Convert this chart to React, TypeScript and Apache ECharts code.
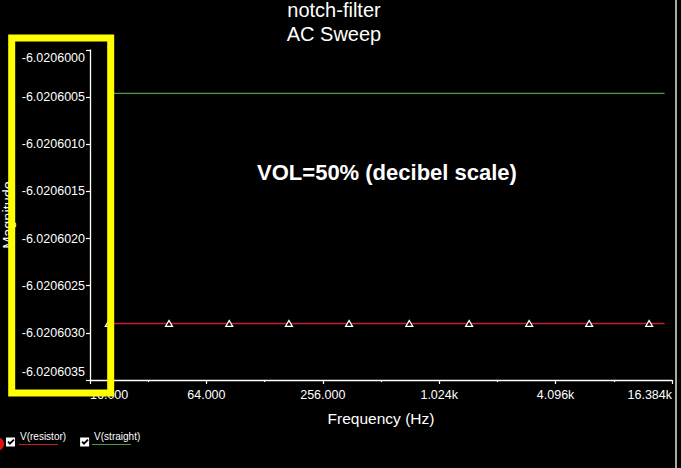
import React, { useEffect, useRef } from 'react';
import * as echarts from 'echarts';

const FONT = '"Liberation Sans", Arial, sans-serif';

const seriesNames = ['V(resistor)', 'V(straight)'];
const seriesColors = ['#c42228', '#4f9a44'];

// V(resistor): sweep points where markers are drawn, plus the sweep end (no marker)
const resistorFreqs = [20, 41, 84, 171, 350, 717, 1463, 2990, 6110, 12480, 15000];
const resistorMags = [
  -6.0206029, -6.0206029, -6.0206029, -6.0206029, -6.0206029, -6.0206029,
  -6.0206029, -6.0206029, -6.0206029, -6.0206029, -6.0206029,
];
const resistorMarker = [true, true, true, true, true, true, true, true, true, true, false];

// V(straight)
const straightFreqs = [20, 15000];
const straightMags = [-6.02060046, -6.02060046];

// axes
const xMinHz = 16;
const xMaxHz = 16384;
const xTickLabels = ['16.000', '64.000', '256.000', '1.024k', '4.096k', '16.384k'];
const yMin = -6.0206035;
const yMax = -6.0206;
const yInterval = 0.0000005;
const yTickLabels = [
  '-6.0206035', '-6.0206030', '-6.0206025', '-6.0206020',
  '-6.0206015', '-6.0206010', '-6.0206005', '-6.0206000',
];

const titleText = 'notch-filter\nAC Sweep';
const noteText = 'VOL=50% (decibel scale)';

export default function App() {
  const ref = useRef<HTMLDivElement>(null);

  useEffect(() => {
    document.body.style.margin = '0';
    document.body.style.background = '#000';
    if (!ref.current) return;
    const chart = echarts.init(ref.current, null, { renderer: 'svg' });
    const xMin = Math.log2(xMinHz);
    const xMax = Math.log2(xMaxHz);
    const lblSize = 12.5;

    chart.setOption({
      animation: false,
      backgroundColor: '#000',
      title: {
        text: titleText,
        left: 334,
        top: -2,
        textAlign: 'center',
        padding: 0,
        textStyle: { color: '#fff', fontSize: 20, fontWeight: 'normal', lineHeight: 24, fontFamily: FONT },
      },
      grid: { left: 90, right: 9, top: 50, bottom: 88, containLabel: false, outerBoundsMode: 'none' },
      legend: {
        left: 6,
        top: 431,
        padding: 0,
        itemGap: 14,
        itemWidth: 9,
        itemHeight: 10,
        selectedMode: false,
        icon: 'path://M0,0H10V10H0Z M1.5,5.2L4.3,8.4L9.5,3L8.2,1.6L4.3,5.4L2.9,3.8Z',
        data: seriesNames.map((n) => ({ name: n, itemStyle: { color: '#fff', borderWidth: 0 } })),
        formatter: '{t|{name}}',
        textStyle: {
          color: '#fff',
          fontSize: 10,
          fontFamily: FONT,
          rich: { t: { color: '#fff', fontSize: 10, fontFamily: FONT, padding: [0, 0, 12, 0] } },
        },
      },
      xAxis: {
        type: 'value',
        min: xMin,
        max: xMax,
        interval: 2,
        name: 'Frequency (Hz)',
        nameLocation: 'middle',
        nameGap: 30,
        nameMoveOverlap: false,
        nameTextStyle: { color: '#fff', fontSize: 15.5, fontFamily: FONT },
        axisLine: { show: true, onZero: false, lineStyle: { color: '#fff', width: 1.3 } },
        axisTick: { show: true, length: 4, lineStyle: { color: '#fff', width: 1.2 } },
        minorTick: { show: true, splitNumber: 2, length: 2, lineStyle: { color: '#fff', width: 1.2 } },
        splitLine: { show: false },
        axisLabel: {
          color: '#fff',
          fontSize: lblSize,
          fontFamily: FONT,
          margin: 8,
          alignMinLabel: 'left',
          alignMaxLabel: 'right',
          formatter: (v: number) => xTickLabels[Math.round((v - xMin) / 2)] ?? '',
        },
      },
      yAxis: {
        type: 'value',
        min: yMin,
        max: yMax,
        interval: yInterval,
        name: 'Magnitude',
        nameLocation: 'middle',
        nameRotate: 90,
        nameGap: 75,
        nameMoveOverlap: false,
        nameTextStyle: { color: '#fff', fontSize: 14.5, fontFamily: FONT },
        axisLine: { show: true, onZero: false, lineStyle: { color: '#fff', width: 1.3 } },
        axisTick: { show: true, length: 4, lineStyle: { color: '#fff', width: 1.2 } },
        splitLine: { show: false },
        axisLabel: {
          color: '#fff',
          fontSize: lblSize,
          fontFamily: FONT,
          margin: 5,
          formatter: (v: number) => {
            const i = Math.round((v - yMin) / yInterval);
            const t = yTickLabels[i] ?? '';
            if (i === yTickLabels.length - 1) return '{top|' + t + '}';
            if (i === 0) return '{bot|' + t + '}';
            return '{n|' + t + '}';
          },
          rich: {
            n: { color: '#fff', fontSize: lblSize, fontFamily: FONT },
            top: { color: '#fff', fontSize: lblSize, fontFamily: FONT, padding: [16, 0, 0, 0] },
            bot: { color: '#fff', fontSize: lblSize, fontFamily: FONT, padding: [0, 0, 16, 0] },
          },
        },
      },
      series: [
        {
          name: seriesNames[0],
          type: 'line',
          color: seriesColors[0],
          lineStyle: { color: seriesColors[0], width: 1.5, opacity: 1 },
          symbol: 'triangle',
          symbolSize: [7, 6],
          itemStyle: { color: '#000', borderColor: '#fff', borderWidth: 1.2 },
          data: resistorFreqs.map((f, i) => ({
            value: [Math.log2(f), resistorMags[i]],
            symbol: resistorMarker[i] ? 'triangle' : 'none',
          })),
          z: 3,
        },
        {
          name: seriesNames[1],
          type: 'line',
          color: seriesColors[1],
          lineStyle: { color: seriesColors[1], width: 1.3, opacity: 1 },
          showSymbol: false,
          symbol: 'none',
          data: straightFreqs.map((f, i) => [Math.log2(f), straightMags[i]]),
          z: 2,
        },
      ],
      graphic: [
        {
          type: 'text',
          x: 387,
          y: 172,
          z: 100,
          style: {
            text: noteText,
            fill: '#fff',
            fontSize: 22,
            fontWeight: 'bold',
            fontFamily: FONT,
            align: 'center',
            verticalAlign: 'middle',
          },
        },
        {
          type: 'rect',
          z: 100,
          shape: { x: 11.7, y: 38, width: 99, height: 355 },
          style: { fill: 'none', stroke: '#ffff00', lineWidth: 7 },
        },
        {
          type: 'line',
          z: 100,
          shape: { x1: 19, y1: 444.5, x2: 58, y2: 444.5 },
          style: { stroke: seriesColors[0], lineWidth: 1 },
        },
        {
          type: 'line',
          z: 100,
          shape: { x1: 92, y1: 444.5, x2: 131, y2: 444.5 },
          style: { stroke: seriesColors[1], lineWidth: 1 },
        },
        {
          type: 'circle',
          z: 100,
          shape: { cx: -3, cy: 444, r: 7 },
          style: { fill: '#e01010' },
        },
        {
          type: 'rect',
          z: 100,
          shape: { x: 675, y: 0, width: 2, height: 468 },
          style: { fill: '#a8a8a8' },
        },
      ],
    });

    return () => chart.dispose();
  }, []);

  return <div ref={ref} style={{ width: 681, height: 468, background: '#000' }} />;
}
